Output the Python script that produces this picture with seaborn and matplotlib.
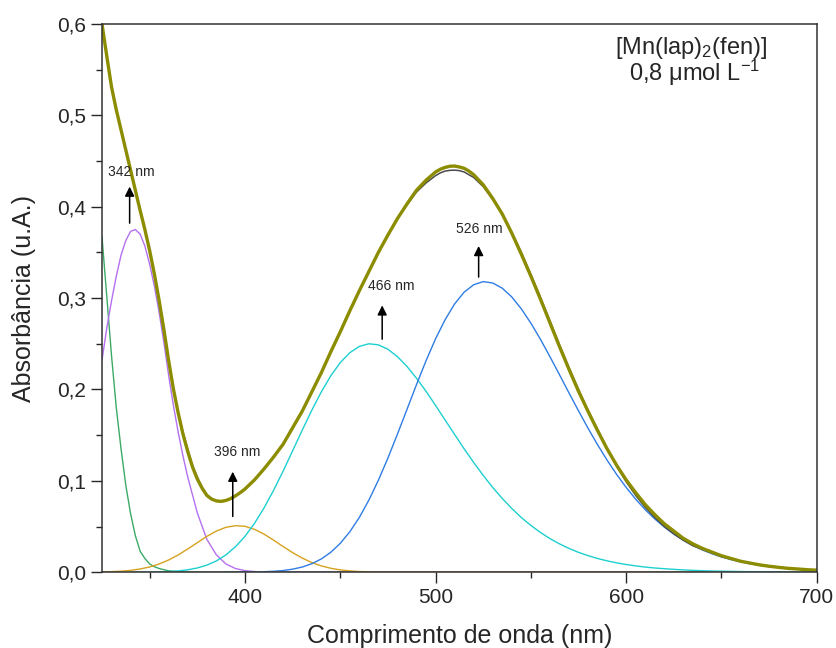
import matplotlib
matplotlib.use("Agg")
import matplotlib.pyplot as plt
import numpy as np
import seaborn as sns
from matplotlib.ticker import FuncFormatter, MultipleLocator

# deconvoluted bands (nm, absorbance)
green_nm = [325, 327.5, 330, 332.5, 335, 337.5, 340, 342.5, 345, 347.5, 350, 352.5, 355, 357.5,
            360, 365, 370, 380, 700]
green_abs = [0.367, 0.302, 0.237, 0.180, 0.135, 0.095, 0.064, 0.040, 0.023, 0.015, 0.009, 0.006,
             0.004, 0.0027, 0.0015, 0.0005, 0.0002, 0.0, 0.0]

purple_nm = [325, 327.5, 330, 332.5, 335, 337.5, 340, 342.5, 345, 347.5, 350, 352.5, 355,
             357.5, 360, 362.5, 365, 367.5, 370, 375, 380, 385, 390, 395, 400, 405, 410, 420, 700]
purple_abs = [0.232, 0.267, 0.297, 0.324, 0.347, 0.363, 0.373, 0.375, 0.370, 0.357, 0.337, 0.313,
              0.284, 0.251, 0.215, 0.182, 0.153, 0.127, 0.104, 0.065, 0.036, 0.019, 0.009, 0.004,
              0.0017, 0.0007, 0.0002, 0.0, 0.0]

orange_nm = [325, 330, 335, 340, 345, 350, 355, 360, 365, 370, 375, 380, 385, 390, 395, 400, 405,
             410, 415, 420, 425, 430, 435, 440, 445, 450, 455, 460, 465, 470, 480, 700]
orange_abs = [0.0003, 0.0006, 0.0011, 0.0020, 0.0035, 0.0057, 0.0090, 0.0134, 0.0189, 0.0254,
              0.0323, 0.0392, 0.0450, 0.0491, 0.0509, 0.0502, 0.0469, 0.0417, 0.0351, 0.0281,
              0.0214, 0.0155, 0.0106, 0.0069, 0.0043, 0.0025, 0.0014, 0.0007, 0.0004, 0.0002,
              0.0, 0.0]

cyan_nm = np.arange(340, 701, 5)
cyan_abs = [0.0, 0.0001, 0.0001, 0.0003, 0.0007, 0.0014, 0.0026, 0.0046, 0.0077, 0.0123,
            0.0189, 0.0278, 0.0392, 0.0534, 0.0703, 0.0895, 0.1105, 0.1328, 0.1552, 0.1769,
            0.1971, 0.2148, 0.2294, 0.2402, 0.2471, 0.2500, 0.2488, 0.2440, 0.2359, 0.2252,
            0.2123, 0.1980, 0.1825, 0.1666, 0.1507, 0.1350, 0.1201, 0.1059, 0.0927, 0.0807,
            0.0697, 0.0598, 0.0512, 0.0435, 0.0368, 0.0310, 0.0260, 0.0217, 0.0181, 0.0150,
            0.0124, 0.0102, 0.0084, 0.0069, 0.0056, 0.0046, 0.0038, 0.0031, 0.0025, 0.0020,
            0.0016, 0.0013, 0.0011, 0.0009, 0.0007, 0.0006, 0.0005, 0.0004, 0.0003, 0.0002,
            0.0002, 0.0001, 0.0001]

blue_nm = np.arange(390, 701, 5)
blue_abs = [0.0, 0.0, 0.0001, 0.0002, 0.0005, 0.0010, 0.0018, 0.0033, 0.0056, 0.0092,
            0.0144, 0.0217, 0.0315, 0.0442, 0.0599, 0.0788, 0.1006, 0.1249, 0.1511, 0.1781,
            0.2053, 0.2314, 0.2554, 0.2763, 0.2936, 0.3065, 0.3146, 0.3180, 0.3165, 0.3108,
            0.3012, 0.2882, 0.2726, 0.2550, 0.2359, 0.2162, 0.1962, 0.1766, 0.1575, 0.1395,
            0.1226, 0.1070, 0.0928, 0.0799, 0.0684, 0.0583, 0.0494, 0.0417, 0.0349, 0.0292,
            0.0243, 0.0202, 0.0167, 0.0137, 0.0113, 0.0092, 0.0075, 0.0061, 0.0050, 0.0040,
            0.0033, 0.0026, 0.0021]

baseline_nm = [325, 700]
baseline_abs = [0.0, 0.0]

# measured spectrum and cumulative fit
spec_nm = np.concatenate([np.arange(325, 400.1, 2.5), np.arange(405, 500.1, 5),
                          np.arange(502.5, 520.1, 2.5), np.arange(525, 700.1, 5)])
fit_abs = [0.600, 0.565, 0.531, 0.506, 0.484, 0.462, 0.440, 0.418, 0.396, 0.375,
           0.352, 0.326, 0.297, 0.265, 0.231, 0.200, 0.174, 0.151, 0.132, 0.115,
           0.102, 0.092, 0.084, 0.080, 0.078, 0.0775, 0.0785, 0.0805, 0.0835, 0.087, 0.091,
           0.101, 0.113, 0.126, 0.140, 0.158, 0.176, 0.197, 0.218, 0.241, 0.263,
           0.286, 0.308, 0.329, 0.350, 0.369, 0.387, 0.403, 0.418, 0.429, 0.438,
           0.441, 0.443, 0.4443, 0.4445, 0.4435, 0.442, 0.439, 0.435,
           0.424, 0.409, 0.392, 0.371, 0.348, 0.324, 0.299, 0.273, 0.247, 0.222,
           0.198, 0.176, 0.155, 0.135, 0.117, 0.101, 0.087, 0.074, 0.063, 0.053,
           0.045, 0.037, 0.031, 0.026, 0.022, 0.018, 0.015, 0.012, 0.010, 0.008,
           0.0065, 0.0053, 0.0042, 0.0035, 0.0027, 0.0022]
exp_abs = [0.600, 0.565, 0.531, 0.506, 0.484, 0.462, 0.440, 0.418, 0.396, 0.375,
           0.352, 0.326, 0.297, 0.265, 0.231, 0.200, 0.175, 0.153, 0.134, 0.117,
           0.104, 0.093, 0.085, 0.080, 0.078, 0.0775, 0.0785, 0.0805, 0.0835, 0.087, 0.091,
           0.101, 0.113, 0.126, 0.140, 0.158, 0.176, 0.197, 0.218, 0.241, 0.263,
           0.286, 0.308, 0.329, 0.350, 0.369, 0.387, 0.402, 0.416, 0.426, 0.434,
           0.437, 0.439, 0.4398, 0.440, 0.4395, 0.438, 0.435, 0.432,
           0.422, 0.408, 0.392, 0.372, 0.350, 0.326, 0.301, 0.275, 0.249, 0.224,
           0.200, 0.177, 0.156, 0.135, 0.116, 0.099, 0.084, 0.071, 0.060, 0.050,
           0.042, 0.035, 0.029, 0.025, 0.021, 0.017, 0.0145, 0.012, 0.010, 0.008,
           0.0065, 0.0053, 0.0042, 0.0035, 0.0027, 0.0022]

peak_labels = ["342 nm", "396 nm", "466 nm", "526 nm"]

sns.set_style("ticks")
plt.rcParams["font.family"] = ["Liberation Sans", "DejaVu Sans"]
plt.rcParams["mathtext.fontset"] = "custom"
plt.rcParams["mathtext.rm"] = "Liberation Sans"
plt.rcParams["mathtext.default"] = "regular"

fig, ax = plt.subplots(figsize=(8.36, 6.48), dpi=100)
fig.subplots_adjust(left=0.122, right=0.977, bottom=0.117, top=0.963)

bands = [
    (green_nm, green_abs, "#3AAA66"),
    (purple_nm, purple_abs, "#B470F0"),
    (orange_nm, orange_abs, "#D6A21E"),
    (cyan_nm, cyan_abs, "#1ECFD0"),
    (blue_nm, blue_abs, "#2F7DE3"),
    (baseline_nm, baseline_abs, "#A8704A"),
]
for nm, absorb, color in bands:
    sns.lineplot(x=nm, y=absorb, color=color, lw=1.0, ax=ax, legend=False,
                 solid_joinstyle="round")

sns.lineplot(x=spec_nm, y=exp_abs, color="#4A4A4A", lw=1.1, ax=ax, legend=False,
             solid_joinstyle="round")
sns.lineplot(x=spec_nm, y=fit_abs, color="#8C8C00", lw=2.4, ax=ax, legend=False,
             solid_joinstyle="round", solid_capstyle="round")

# peak arrows and labels
label_pos = [(340.5, 0.438), (395.7, 0.131), (476.5, 0.313), (523.0, 0.376)]
arrow_pos = [(339.5, 0.382, 0.422), (393.6, 0.061, 0.110), (472.0, 0.255, 0.292), (522.6, 0.323, 0.357)]
for text, (tx, ty), (ax_x, y0, y1) in zip(peak_labels, label_pos, arrow_pos):
    ax.text(tx, ty, text, ha="center", va="center", fontsize=10)
    ax.annotate("", xy=(ax_x, y1), xytext=(ax_x, y0),
                arrowprops=dict(arrowstyle="-|>", color="black", lw=1.1, mutation_scale=14,
                                shrinkA=0, shrinkB=0))

ax.text(634, 0.574, "[Mn(lap)$_2$(fen)]", ha="center", va="center", fontsize=17)
ax.text(636, 0.5466, "0,8 μmol L$^{-1}$", ha="center", va="center", fontsize=17)

ax.set_xlim(325, 700)
ax.set_ylim(0, 0.6)
ax.xaxis.set_major_locator(MultipleLocator(100))
ax.xaxis.set_minor_locator(MultipleLocator(50))
ax.yaxis.set_major_locator(MultipleLocator(0.1))
ax.yaxis.set_minor_locator(MultipleLocator(0.05))
ax.yaxis.set_major_formatter(FuncFormatter(lambda v, _: f"{v:.1f}".replace(".", ",")))
ax.tick_params(which="major", direction="out", length=8, width=1.0, labelsize=15, top=False, right=False)
ax.tick_params(which="minor", direction="out", length=4, width=1.0, top=False, right=False)
for side in ["top", "right", "bottom", "left"]:
    ax.spines[side].set_visible(True)
    ax.spines[side].set_color("#333333")
    ax.spines[side].set_linewidth(1.1)

ax.set_xlabel("Comprimento de onda (nm)", fontsize=18, labelpad=12)
ax.set_ylabel("Absorbância (u.A.)", fontsize=18, labelpad=15)

fig.savefig("out.png", dpi=100)
plt.close(fig)
